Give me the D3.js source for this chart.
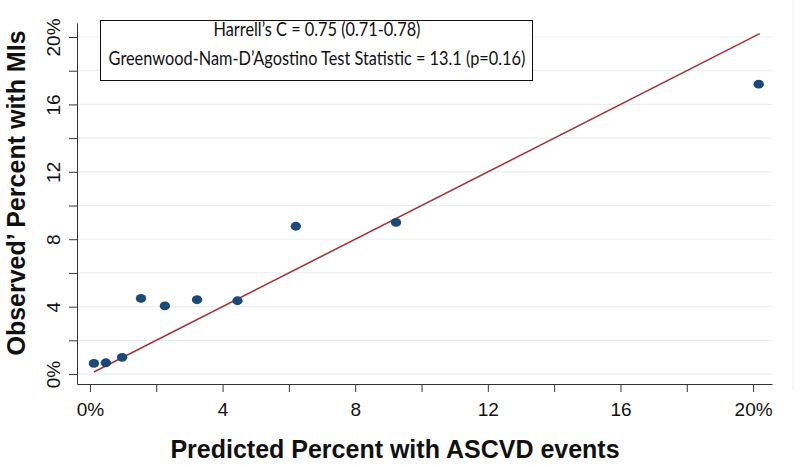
<!DOCTYPE html>
<html lang="en">
<head>
  <meta charset="UTF-8">
  <title>Calibration plot</title>
  <script src="https://cdn.jsdelivr.net/npm/d3@7"></script>
<style>
  body { margin: 0; background: #fff; }
  svg { display: block; }
  text { font-family: "Liberation Sans", Arial, sans-serif; fill: #111; }
  .grid line { stroke: #e8f0f1; stroke-width: 1.2px; }
  .axis path, .axis line { stroke: #333; stroke-width: 1px; }
  .axis text { font-size: 19px; fill: #111; }
  .title { font-size: 25px; font-weight: bold; }
  .note { font-family: Lato, "Open Sans", sans-serif; font-size: 19px; }
</style>
</head>
<body>
<div id="chart"></div>

<script>
// observed vs predicted, in percent
var predicted = [0.12, 0.48, 0.97, 1.54, 2.26, 3.23, 4.45, 6.21, 9.23, 20.17];
var observed  = [0.63, 0.67, 0.99, 4.49, 4.05, 4.41, 4.35, 8.77, 9.00, 17.2];

// perfect calibration line (y = x) over range of predictions
var diagX = [0.12, 20.2];

var ticksMajor = [0, 4, 8, 12, 16, 20];
var ticksMinor = [0, 2, 4, 6, 8, 10, 12, 14, 16, 18, 20];
var tickLabel = function(d) { return d === 0 || d === 20 ? d + "%" : String(d); };

var noteLines = [
  "Harrell\u2019s C = 0.75 (0.71-0.78)",
  "Greenwood-Nam-D\u2019Agostino Test Statistic = 13.1 (p=0.16)"
];
var xTitle = "Predicted Percent with ASCVD events";
var yTitle = "Observed\u2019 Percent with MIs";

var width = 800, height = 467;

var svg = d3.select("#chart").append("svg")
    .attr("width", width)
    .attr("height", height);

var x = d3.scaleLinear().domain([-0.39, 20.57]).range([77, 772]);
var y = d3.scaleLinear().domain([-0.59, 20.83]).range([384, 23]);

// faint frame line at the right edge
svg.append("line")
    .attr("x1", 793).attr("x2", 793)
    .attr("y1", 0).attr("y2", 390)
    .attr("stroke", "#eeeeee");

// horizontal gridlines
svg.append("g").attr("class", "grid")
  .selectAll("line")
  .data(ticksMinor)
  .enter().append("line")
    .attr("x1", x.range()[0] + 1)
    .attr("x2", x.range()[1])
    .attr("y1", function(d) { return y(d); })
    .attr("y2", function(d) { return y(d); });

// x axis: minor ticks then labels on the majors
var xAxis = svg.append("g").attr("class", "axis")
    .attr("transform", "translate(0," + y.range()[0] + ")")
    .call(d3.axisBottom(x).tickValues(ticksMinor).tickSizeInner(8).tickSizeOuter(0)
      .tickFormat(function(d) { return ticksMajor.indexOf(d) >= 0 ? tickLabel(d) : ""; }));
xAxis.selectAll("text").attr("dy", null).attr("y", 32);

// y axis, labels rotated
var yAxis = svg.append("g").attr("class", "axis")
    .attr("transform", "translate(" + x.range()[0] + ",0)")
    .call(d3.axisLeft(y).tickValues(ticksMinor).tickSizeInner(8).tickSizeOuter(0)
      .tickFormat(function(d) { return ticksMajor.indexOf(d) >= 0 ? tickLabel(d) : ""; }));
yAxis.selectAll("text")
    .attr("x", null).attr("dy", null)
    .attr("text-anchor", "middle")
    .attr("transform", "translate(-17,0) rotate(-90)");

// y = x reference line
svg.append("line")
    .attr("x1", x(diagX[0])).attr("y1", y(diagX[0]))
    .attr("x2", x(diagX[1])).attr("y2", y(diagX[1]))
    .attr("stroke", "#a3353a")
    .attr("stroke-width", 1.6);

// points
svg.append("g").selectAll("ellipse")
  .data(predicted)
  .enter().append("ellipse")
    .attr("cx", function(d) { return x(d); })
    .attr("cy", function(d, i) { return y(observed[i]); })
    .attr("rx", 5.2)
    .attr("ry", 4.4)
    .attr("fill", "#1c4a78");

// stats box
svg.append("rect")
    .attr("x", 100.5).attr("y", 20.5)
    .attr("width", 432).attr("height", 60)
    .attr("fill", "#fff")
    .attr("stroke", "#111")
    .attr("stroke-width", 1);

var notes = svg.selectAll(".note")
  .data(noteLines)
  .enter().append("text")
    .attr("class", "note")
    .attr("text-anchor", "middle")
    .text(function(d) { return d; });

// original font is narrow (Calibri-ish): squeeze horizontally so the long line is ~417px
var squeeze = 417 / notes.nodes()[1].getComputedTextLength();
notes.attr("transform", function(d, i) {
  return "translate(317," + (36 + i * 29) + ") scale(" + squeeze + ",1)";
});

// axis titles
svg.append("text")
    .attr("class", "title")
    .attr("x", 395).attr("y", 458)
    .attr("text-anchor", "middle")
    .text(xTitle);

svg.append("text")
    .attr("class", "title")
    .attr("transform", "translate(25,193) rotate(-90)")
    .attr("text-anchor", "middle")
    .text(yTitle);
</script>
</body>
</html>
